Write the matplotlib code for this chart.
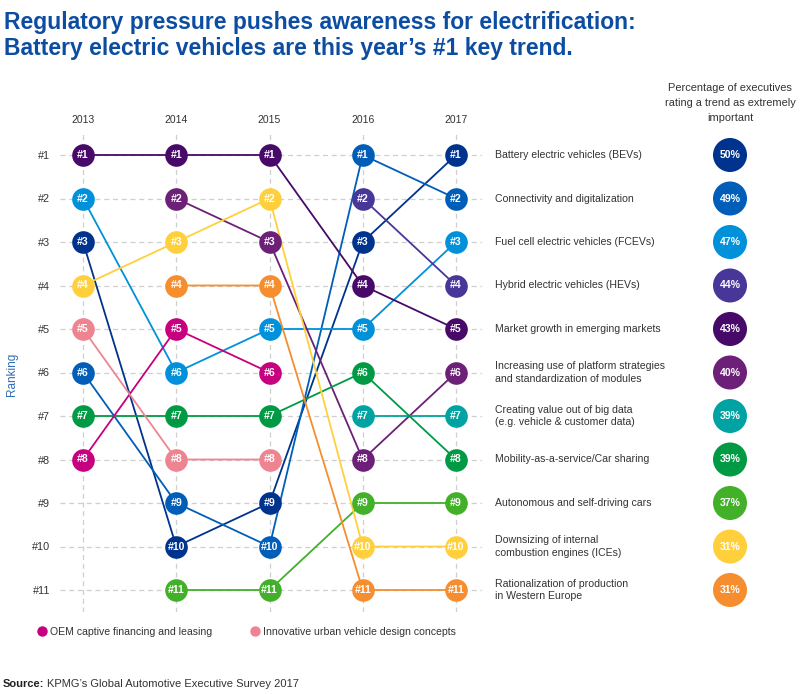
import numpy as np
import matplotlib
matplotlib.use("Agg")
import matplotlib.pyplot as plt
from matplotlib.lines import Line2D

plt.rcParams['font.family'] = ['Liberation Sans', 'DejaVu Sans']

years = ["2013", "2014", "2015", "2016", "2017"]
nan = np.nan

trends = [
    "Battery electric vehicles (BEVs)",
    "Connectivity and digitalization",
    "Fuel cell electric vehicles (FCEVs)",
    "Hybrid electric vehicles (HEVs)",
    "Market growth in emerging markets",
    "Increasing use of platform strategies\nand standardization of modules",
    "Creating value out of big data\n(e.g. vehicle & customer data)",
    "Mobility-as-a-service/Car sharing",
    "Autonomous and self-driving cars",
    "Downsizing of internal\ncombustion engines (ICEs)",
    "Rationalization of production\nin Western Europe",
    "OEM captive financing and leasing",
    "Innovative urban vehicle design concepts",
]

ranks_bev = [3, 10, 9, 3, 1]
ranks_conn = [6, 9, 10, 1, 2]
ranks_fcev = [2, 6, 5, 5, 3]
ranks_hev = [nan, nan, nan, 2, 4]
ranks_market = [1, 1, 1, 4, 5]
ranks_platform = [nan, 2, 3, 8, 6]
ranks_bigdata = [nan, nan, nan, 7, 7]
ranks_mobility = [7, 7, 7, 6, 8]
ranks_autonomous = [nan, 11, 11, 9, 9]
ranks_ice = [4, 3, 2, 10, 10]
ranks_rational = [nan, 4, 4, 11, 11]
ranks_oem = [8, 5, 6, nan, nan]
ranks_urban = [5, 8, 8, nan, nan]

all_ranks = [ranks_bev, ranks_conn, ranks_fcev, ranks_hev, ranks_market,
             ranks_platform, ranks_bigdata, ranks_mobility, ranks_autonomous,
             ranks_ice, ranks_rational, ranks_oem, ranks_urban]

pct_2017 = [50, 49, 47, 44, 43, 40, 39, 39, 37, 31, 31]

colors = ["#00338D", "#005EB8", "#0091DA", "#483698", "#470A68", "#6D2077",
          "#00A3A1", "#009A44", "#43B02A", "#FFD03C", "#F68D2E", "#C6007E", "#EF8491"]

W, H = 800, 694
fig = plt.figure(figsize=(W / 100, H / 100), dpi=100)

ax_l, ax_r, ax_t, ax_b = 60, 482, 132, 612
ax = fig.add_axes([ax_l / W, 1 - ax_b / H, (ax_r - ax_l) / W, (ax_b - ax_t) / H])

x0, dx = 83, 93.25
y0, dy = 155, 43.5
ax.set_xlim((ax_l - x0) / dx, (ax_r - x0) / dx)
ax.set_ylim(1 + (ax_b - y0) / dy, 1 + (ax_t - y0) / dy)

xs = np.arange(len(years))

for r, c in zip(all_ranks, colors):
    r = np.array(r, dtype=float)
    ax.plot(xs, r, color=c, lw=1.3, zorder=2, solid_capstyle='round')
    m = ~np.isnan(r)
    ax.scatter(xs[m], r[m], s=265, color=c, zorder=3, linewidths=0)
    for xi, ri in zip(xs[m], r[m]):
        ax.text(xi, ri, f"#{int(ri)}", color="white", fontsize=7.6, fontweight="bold",
                ha="center", va="center", zorder=4)

ax.set_xticks(xs)
ax.set_xticklabels(years)
ax.set_yticks(np.arange(1, 12))
ax.set_yticklabels([f"#{i}" for i in range(1, 12)])
ax.xaxis.tick_top()
ax.tick_params(axis='x', length=0, pad=5, labelsize=7.5, labelcolor="#333333")
ax.tick_params(axis='y', length=0, pad=7, labelsize=7.8, labelcolor="#333333")
ax.grid(True, color="#CFCFCF", lw=0.9, ls=(0, (4, 3)), zorder=0)
for s in ax.spines.values():
    s.set_visible(False)
ax.set_axisbelow(True)

lab_x = (495 - x0) / dx
circ_x = (730 - x0) / dx
rows = np.arange(1, 12)
for i, row in enumerate(rows):
    ax.text(lab_x, row, trends[i], fontsize=7.6, color="#333333", ha="left",
            va="center", clip_on=False, linespacing=1.35)
ax.scatter(np.full(len(pct_2017), circ_x), rows, s=600, color=colors[:11],
           linewidths=0, clip_on=False, zorder=3)
for row, p in zip(rows, pct_2017):
    ax.text(circ_x, row, f"{p}%", color="white", fontsize=7.6, fontweight="bold",
            ha="center", va="center", clip_on=False, zorder=4)

ax.text(circ_x, 1 + (103 - y0) / dy,
        "Percentage of executives\nrating a trend as extremely\nimportant",
        fontsize=7.9, color="#333333", ha="center", va="center", linespacing=1.6,
        clip_on=False)

fig.text(12 / W, 1 - 374 / H, "Ranking", rotation=90, color="#2F6DB5",
         fontsize=8.5, ha="center", va="center")

title_color = "#0C4DA2"
fig.text(4 / W, 1 - 22 / H, "Regulatory pressure pushes awareness for electrification:",
         fontsize=16.5, fontweight="bold", color=title_color, ha="left", va="center")
fig.text(4 / W, 1 - 48 / H, "Battery electric vehicles are this year\u2019s #1 key trend.",
         fontsize=16.5, fontweight="bold", color=title_color, ha="left", va="center")

handles = [Line2D([], [], marker="o", ls="none", color=colors[11], markersize=6.5),
           Line2D([], [], marker="o", ls="none", color=colors[12], markersize=6.5)]
fig.legend(handles, [trends[11], trends[12]], loc="center left",
           bbox_to_anchor=(28 / W, 1 - 632 / H), ncol=2, frameon=False,
           fontsize=7.6, handlelength=0.8, handletextpad=0.4, columnspacing=3.6,
           labelcolor="#333333")

fig.canvas.draw()
renderer = fig.canvas.get_renderer()
t1 = fig.text(3 / W, 1 - 684 / H, "Source:", fontsize=8, fontweight="bold",
              color="#222222", ha="left", va="center")
bb = t1.get_window_extent(renderer=renderer)
fig.text((bb.x1 + 3) / W, 1 - 684 / H, "KPMG\u2019s Global Automotive Executive Survey 2017",
         fontsize=8, color="#333333", ha="left", va="center")

fig.savefig("out.png", dpi=100)
